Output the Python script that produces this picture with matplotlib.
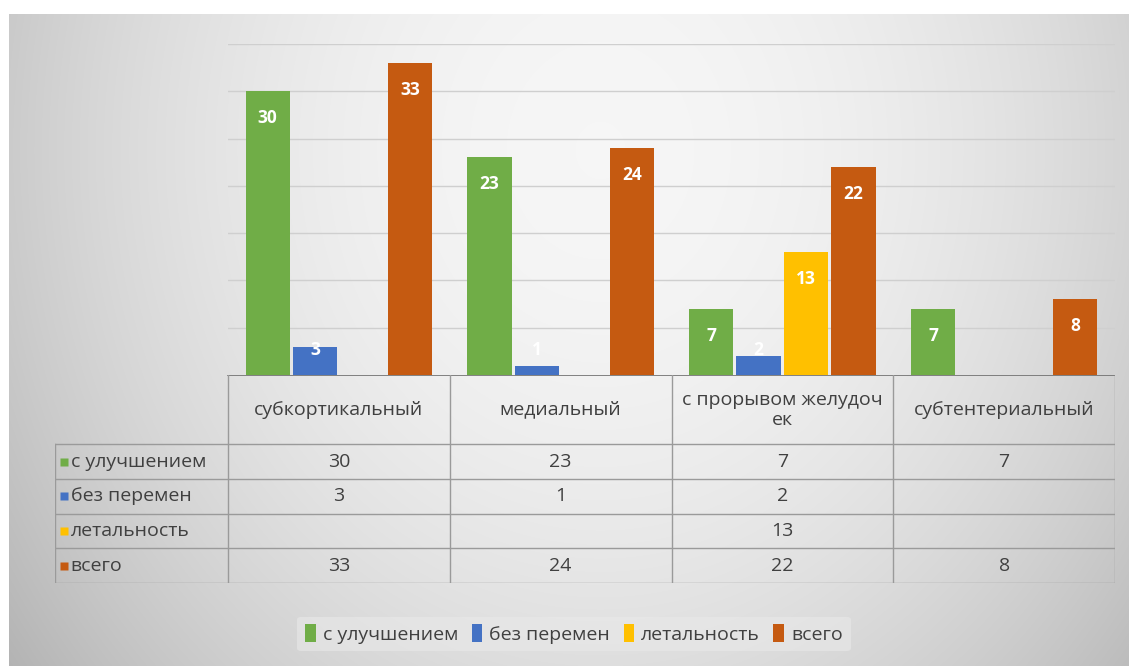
import numpy as np
import matplotlib
matplotlib.use('Agg')
import matplotlib.pyplot as plt
from matplotlib.patches import Patch

plt.rcParams['font.family'] = ['Open Sans', 'DejaVu Sans']

# data
categories = ['субкортикальный', 'медиальный', 'с прорывом желудоч\nек', 'субтентериальный']
series_names = ['с улучшением', 'без перемен', 'летальность', 'всего']
improved = [30, 23, 7, 7]
unchanged = [3, 1, 2, None]
lethal = [None, None, 13, None]
total = [33, 24, 22, 8]
series = [improved, unchanged, lethal, total]
colors = ['#70AD47', '#4472C4', '#FFC000', '#C55A11']

W, H = 1129, 666
fig = plt.figure(figsize=(W / 100, H / 100), dpi=100)

def frac(x0, y0, x1, y1):
    # pixel box (top-left origin) -> figure fraction rect
    return [x0 / W, 1 - y1 / H, (x1 - x0) / W, (y1 - y0) / H]

# gray gradient panel
bg = fig.add_axes(frac(9, 14, W, H), zorder=-5)
yy, xx = np.mgrid[14:H, 9:W]
r2 = ((xx - 600) / 560.0) ** 2 + ((yy - 150) / 650.0) ** 2
shade = np.clip(0.965 - 0.15 * r2, 0.7, 1.0)
bg.imshow(np.dstack([shade] * 3), aspect='auto', extent=(0, 1, 0, 1))
bg.axis('off')

# bars
ax = fig.add_axes(frac(228, 44, 1115, 375))
ax.patch.set_alpha(0)
x = np.arange(len(categories))
step, width = 0.214, 0.2
for i, (vals, col) in enumerate(zip(series, colors)):
    off = (i - 1.5) * step
    for xi, v in zip(x, vals):
        if v is None:
            continue
        ax.bar(xi + off, v, width, color=col, zorder=3)
        ax.text(xi + off, max(v - 2.85, 2.65), str(v), ha='center', va='center',
                color='white', fontsize=12.5, fontweight='bold', zorder=4)
ax.set_xlim(-0.5, len(categories) - 0.5)
ax.set_ylim(0, 35)
ax.set_yticks(np.arange(5, 36, 5))
ax.yaxis.grid(True, color='#cfcfcf', lw=1, zorder=0)
ax.tick_params(left=False, bottom=False, labelleft=False, labelbottom=False)
for s in ax.spines.values():
    s.set_visible(False)

# data table under the chart
tax = fig.add_axes(frac(55, 375, 1115, 583))
tax.patch.set_alpha(0)
lab_w = (228 - 55) / ((1115 - 228) / len(categories))
left = -0.5 - lab_w
right = len(categories) - 0.5
tax.set_xlim(left, right)
tax.set_ylim(6, 0)
tax.axis('off')
lc = '#9a9a9a'
tc = '#404040'
fs = 14
tax.plot([-0.5, right], [0, 0], color='#6e6e6e', lw=1.2)
for yv in range(2, 7):
    tax.plot([left, right], [yv, yv], color=lc, lw=1)
for xv in np.arange(-0.5, right + 0.01, 1):
    tax.plot([xv, xv], [0, 6], color=lc, lw=1)
tax.plot([left, left], [2, 6], color=lc, lw=1)
for xi, cat in zip(x, categories):
    tax.text(xi, 1, cat, ha='center', va='center', fontsize=fs,
             color=tc, linespacing=1.15)
for r, (name, vals, col) in enumerate(zip(series_names, series, colors)):
    yc = 2.5 + r
    tax.plot(left + 0.04, yc, marker='s', ms=6, color=col, mec='none')
    tax.text(left + 0.07, yc, name, ha='left', va='center', fontsize=fs, color=tc)
    for xi, v in zip(x, vals):
        if v is not None:
            tax.text(xi, yc, str(v), ha='center', va='center', fontsize=fs, color=tc)

handles = [Patch(facecolor=c, edgecolor='none') for c in colors]
fig.legend(handles, series_names, loc='center', bbox_to_anchor=(574 / W, 1 - 634 / H),
           ncol=4, fontsize=fs, frameon=True, facecolor='#e9e9e9', edgecolor='none',
           framealpha=0.6, handlelength=0.55, handleheight=1.0, handletextpad=0.35,
           columnspacing=0.7, labelcolor=tc)

fig.savefig('out.png', dpi=100)
